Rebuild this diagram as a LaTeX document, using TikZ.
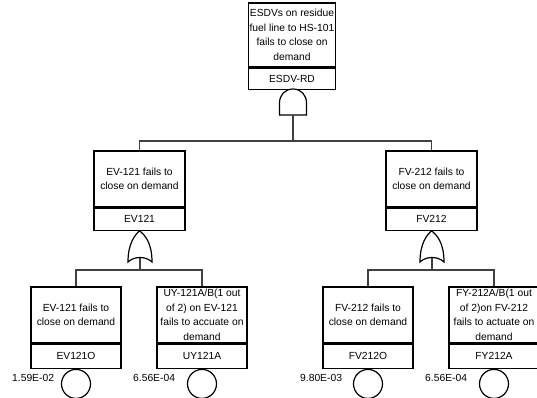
\documentclass[tikz,border=0pt]{standalone}
\usepackage{fontspec}
\setmainfont{Liberation Sans}
\newcommand\evfont{\fontsize{10.3}{14.5}\selectfont}
\begin{document}
\begin{tikzpicture}[x=1pt,y=-1pt,
  desc/.style={draw, line width=1.2pt, minimum width=90pt, minimum height=56pt,
    inner sep=0pt, align=center, font=\evfont},
  ident/.style={draw, line width=1.2pt, minimum width=90pt, minimum height=23pt,
    inner sep=0pt, anchor=north, font=\evfont},
  basic/.style={circle, draw, line width=1.2pt, minimum size=29pt, inner sep=0pt, anchor=north},
  prob/.style={anchor=west, font=\evfont, inner sep=0pt},
  link/.style={draw=black!75, line width=1.2pt},
  gate/.style={draw, line width=1.2pt, fill=white}]
\useasboundingbox (0,0) rectangle (537,398);

% top event
\node[desc, minimum width=87pt, minimum height=64pt] (top) at (292,35)
  {ESDVs on residue\\fuel line to HS-101\\fails to close on\\demand};
\node[ident, minimum width=87pt, minimum height=21pt] (topid) at (top.south) {ESDV-RD};

% intermediate events
\node[desc, minimum width=91pt] (evA) at (139.5,179) {EV-121 fails to\\close on demand};
\node[ident, minimum width=91pt, minimum height=22pt] (evAid) at (evA.south) {EV121};
\node[desc, minimum width=91pt] (fvA) at (431.5,179) {FV-212 fails to\\close on demand};
\node[ident, minimum width=91pt, minimum height=22pt] (fvAid) at (fvA.south) {FV212};

% basic events
\node[desc] (ev1) at (76,315) {EV-121 fails to\\close on demand};
\node[ident, minimum height=24pt] (ev1id) at (ev1.south) {EV121O};
\node[desc] (uy1) at (202,315) {UY-121A/B(1 out\\of 2) on EV-121\\fails to accuate on\\demand};
\node[ident, minimum height=24pt] (uy1id) at (uy1.south) {UY121A};
\node[desc] (fv1) at (368,315) {FV-212 fails to\\close on demand};
\node[ident, minimum height=24pt] (fv1id) at (fv1.south) {FV212O};
\node[desc] (fy1) at (494,315) {FY-212A/B(1 out\\of 2)on FV-212\\fails to actuate on\\demand};
\node[ident, minimum height=24pt] (fy1id) at (fy1.south) {FY212A};

\node[basic] (c1) at (ev1id.south) {};
\node[basic] (c2) at (uy1id.south) {};
\node[basic] (c3) at (fv1id.south) {};
\node[basic] (c4) at (fy1id.south) {};

\node[prob] (p1) at (12,378) {1.59E-02};
\node[prob] (p2) at (133,378) {6.56E-04};
\node[prob] (p3) at (300,378) {9.80E-03};
\node[prob] (p4) at (425,378) {6.56E-04};

% AND gate under the top event
\path[gate] (279.5,115) -- (279.5,103)
  .. controls (279.5,95) and (285,89) .. (293,89)
  .. controls (301,89) and (306.5,95) .. (306.5,103)
  -- (306.5,115) -- cycle;
\coordinate (andout) at (293,115);
\coordinate (topbus) at (293,141);

% OR gates under the intermediate events
\path[gate] (evAid.south)
  .. controls (135,235) and (128,243) .. (128,262)
  .. controls (134,256) and (146,256) .. (152,262)
  .. controls (152,243) and (145,235) .. (evAid.south) -- cycle;
\coordinate (orA) at (140,257.5);
\coordinate (busA) at (140,270);
\path[gate] (fvAid.south)
  .. controls (427,235) and (420,243) .. (420,262)
  .. controls (426,256) and (438,256) .. (444,262)
  .. controls (444,243) and (437,235) .. (fvAid.south) -- cycle;
\coordinate (orB) at (432,257.5);
\coordinate (busB) at (432,270);

% connectors
\path[link] (andout) -- (topbus);
\path[link] (evA.north) |- (topbus) -| (fvA.north);
\path[link] (orA) -- (busA);
\path[link] (ev1.north) |- (busA) -| (uy1.north);
\path[link] (orB) -- (busB);
\path[link] (fv1.north) |- (busB) -| (fy1.north);
\end{tikzpicture}
\end{document}
